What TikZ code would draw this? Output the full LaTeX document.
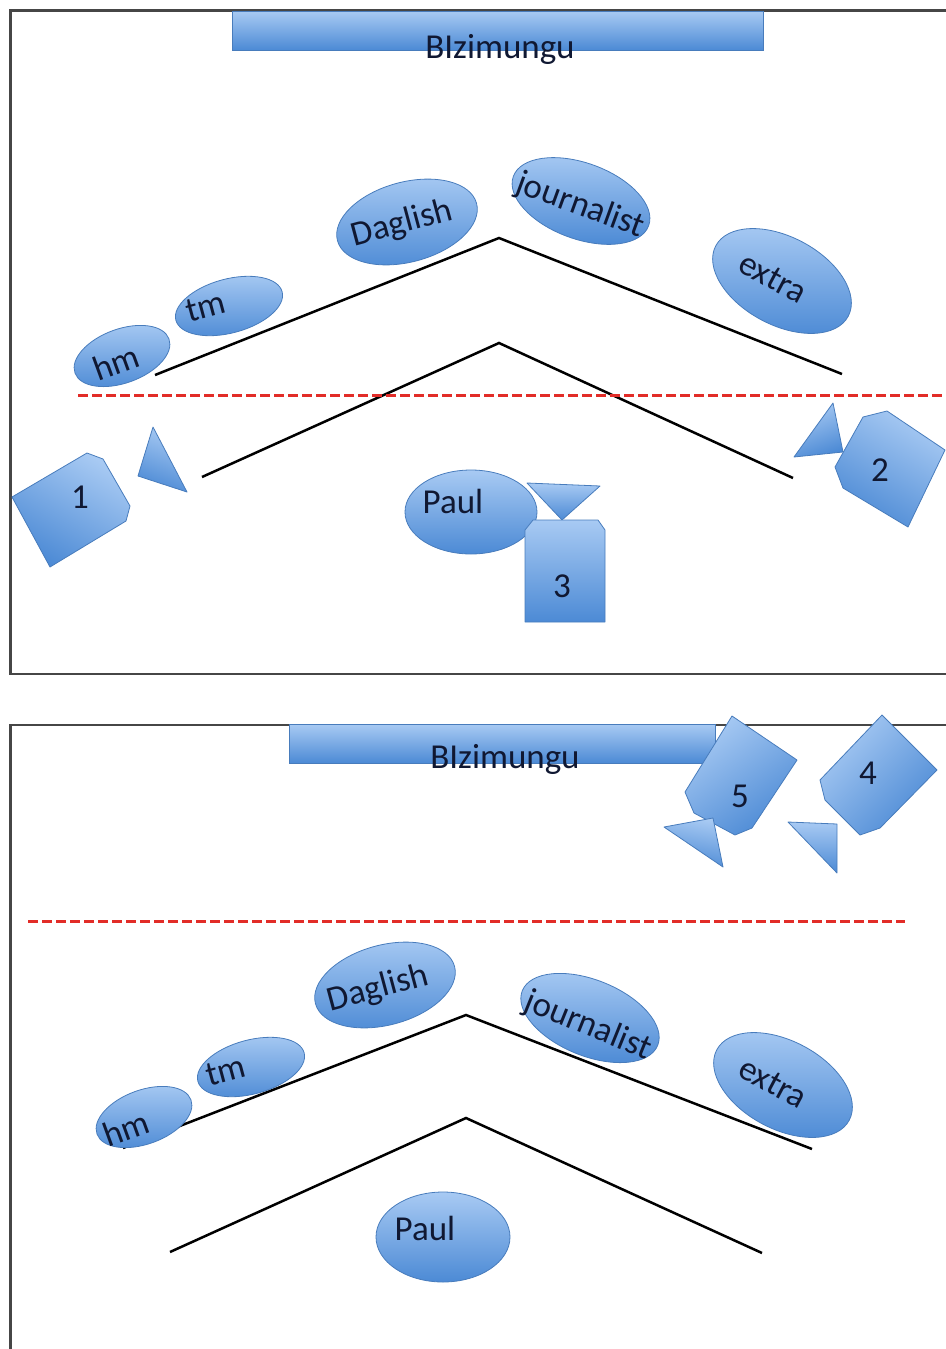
\documentclass[tikz,border=0pt]{standalone}
\usepackage{fontspec}
\setmainfont{Carlito}
\usetikzlibrary{shapes.geometric}

\definecolor{fillhi}{RGB}{168,202,243}
\definecolor{filllo}{RGB}{76,138,213}
\definecolor{edgeblue}{RGB}{72,124,188}
\definecolor{ink}{RGB}{16,24,50}
\definecolor{framegray}{RGB}{70,70,70}
\definecolor{cutred}{RGB}{226,44,40}

\tikzset{
  panel/.style={draw=framegray, line width=2.2},
  bubble/.style={ellipse, draw=edgeblue, line width=0.8,
                 top color=fillhi, bottom color=filllo, inner sep=0},
  tile/.style={draw=edgeblue, line width=0.8, line join=round,
               top color=fillhi, bottom color=filllo},
  banner/.style={draw=edgeblue, line width=0.8,
                 top color=fillhi, bottom color=filllo},
  word/.style={text=ink, font=\fontsize{35}{40}\selectfont, inner sep=0},
  ridge/.style={draw=black, line width=2.5},
  cutline/.style={draw=cutred, line width=3, dash pattern=on 10 off 4},
}

\begin{document}
\begin{tikzpicture}[x=1pt, y=-1pt]
\useasboundingbox (0,0) rectangle (945,1349);

% ---------------- upper panel ----------------
\draw[panel] (960,10.5) -- (10.5,10.5) -- (10.5,674) -- (960,674);

% ridges
\coordinate (ua1) at (155,375);
\coordinate (ua2) at (499,238);
\coordinate (ua3) at (842,374);
\coordinate (ub1) at (202,477);
\coordinate (ub2) at (499,343);
\coordinate (ub3) at (793,478);
\draw[ridge] (ua1) -- (ua2) -- (ua3);
\draw[ridge] (ub1) -- (ub2) -- (ub3);

% dividing line
\coordinate (ucl) at (78,395);
\coordinate (ucr) at (945,395);
\draw[cutline] (ucl) -- (ucr);

% title bar
\node[banner, minimum width=531, minimum height=39, inner sep=0] (ubar) at (497.5,30.5) {};
\node[word, anchor=base] (ubar-t) at (500,58) {BIzimungu};

% bubbles
\node[bubble, minimum width=144, minimum height=80, rotate=15] (udag) at (407,222) {};
\node[word, rotate=15] (udag-t) at (402,224) {Daglish};
\node[bubble, minimum width=144, minimum height=76, rotate=-20] (ujou) at (581,201) {};
\node[word, rotate=-20] (ujou-t) at (580,206) {journalist};
\node[bubble, minimum width=150, minimum height=88, rotate=-28] (uext) at (782,281) {};
\node[word, rotate=-28] (uext-t) at (773,278) {extra};
\node[bubble, minimum width=110, minimum height=54, rotate=15] (utm) at (229,306) {};
\node[word, rotate=15] (utm-t) at (206,307) {tm};
\node[bubble, minimum width=100, minimum height=54, rotate=20] (uhm) at (122,356) {};
\node[word, rotate=20] (uhm-t) at (116,362) {hm};
\node[bubble, minimum width=132, minimum height=84] (upaul) at (471,512) {};
\node[word] (upaul-t) at (453,501) {Paul};

% tile 1 with its wedge
\draw[tile, shading angle=-30] (12,497) -- (87,453) -- (103,459) -- (130,506) -- (126,521) -- (50,567) -- cycle;
\node[word] (n1) at (80,497) {1};
\draw[tile, shading angle=-20] (153,427) -- (138,476) -- (187,492) -- cycle;

% tile 2 with its wedge
\draw[tile, shading angle=-30] (863,417) -- (887,411) -- (945,450) -- (908,527) -- (843,488) -- (835,467) -- cycle;
\node[word] (n2) at (880,470) {2};
\draw[tile, shading angle=20] (833,403) -- (794,457) -- (843,452) -- cycle;

% tile 3 with its wedge
\draw[tile] (527,483) -- (600,486) -- (562,520) -- cycle;
\draw[tile] (525,530) -- (533,520) -- (598,520) -- (605,530) -- (605,622) -- (525,622) -- cycle;
\node[word] (n3) at (562,586) {3};

% ---------------- lower panel ----------------
\draw[panel] (960,725) -- (10.5,725) -- (10.5,1360);

% ridges
\coordinate (la1) at (123,1148);
\coordinate (la2) at (466,1015);
\coordinate (la3) at (812,1149);
\coordinate (lb1) at (170,1252);
\coordinate (lb2) at (466,1118);
\coordinate (lb3) at (762,1253);
\draw[ridge] (la1) -- (la2) -- (la3);
\draw[ridge] (lb1) -- (lb2) -- (lb3);

% dividing line
\coordinate (lcl) at (28,921);
\coordinate (lcr) at (905,921);
\draw[cutline] (lcl) -- (lcr);

% title bar
\node[banner, minimum width=426, minimum height=39, inner sep=0] (lbar) at (502,743.5) {};
\node[word, anchor=base] (lbar-t) at (505,768) {BIzimungu};

% tile 5 with its wedge
\draw[tile, shading angle=35] (732,716) -- (797,760) -- (752,828) -- (735,835) -- (694,813) -- (685,792) -- cycle;
\node[word] (n5) at (740,796) {5};
\draw[tile, shading angle=-10] (664,827) -- (713,818) -- (723,867) -- cycle;

% tile 4 with its wedge
\draw[tile, shading angle=45] (882,715) -- (937,770) -- (880,828) -- (860,835) -- (825,800) -- (820,780) -- cycle;
\node[word] (n4) at (868,773) {4};
\draw[tile] (788,822) -- (837,824) -- (837,873) -- cycle;

% bubbles
\node[bubble, minimum width=144, minimum height=80, rotate=15] (ldag) at (385,985) {};
\node[word, rotate=15] (ldag-t) at (378,989) {Daglish};
\node[bubble, minimum width=146, minimum height=76, rotate=-22] (ljou) at (590,1018) {};
\node[word, rotate=-22] (ljou-t) at (588,1026) {journalist};
\node[bubble, minimum width=150, minimum height=88, rotate=-28] (lext) at (783,1085) {};
\node[word, rotate=-28] (lext-t) at (773,1083) {extra};
\node[bubble, minimum width=110, minimum height=54, rotate=15] (ltm) at (251,1067) {};
\node[word, rotate=15] (ltm-t) at (226,1071) {tm};
\node[bubble, minimum width=100, minimum height=54, rotate=20] (lhm) at (144,1117) {};
\node[word, rotate=20] (lhm-t) at (126,1128) {hm};
\node[bubble, minimum width=134, minimum height=90] (lpaul) at (443,1237) {};
\node[word] (lpaul-t) at (425,1228) {Paul};
\end{tikzpicture}
\end{document}
